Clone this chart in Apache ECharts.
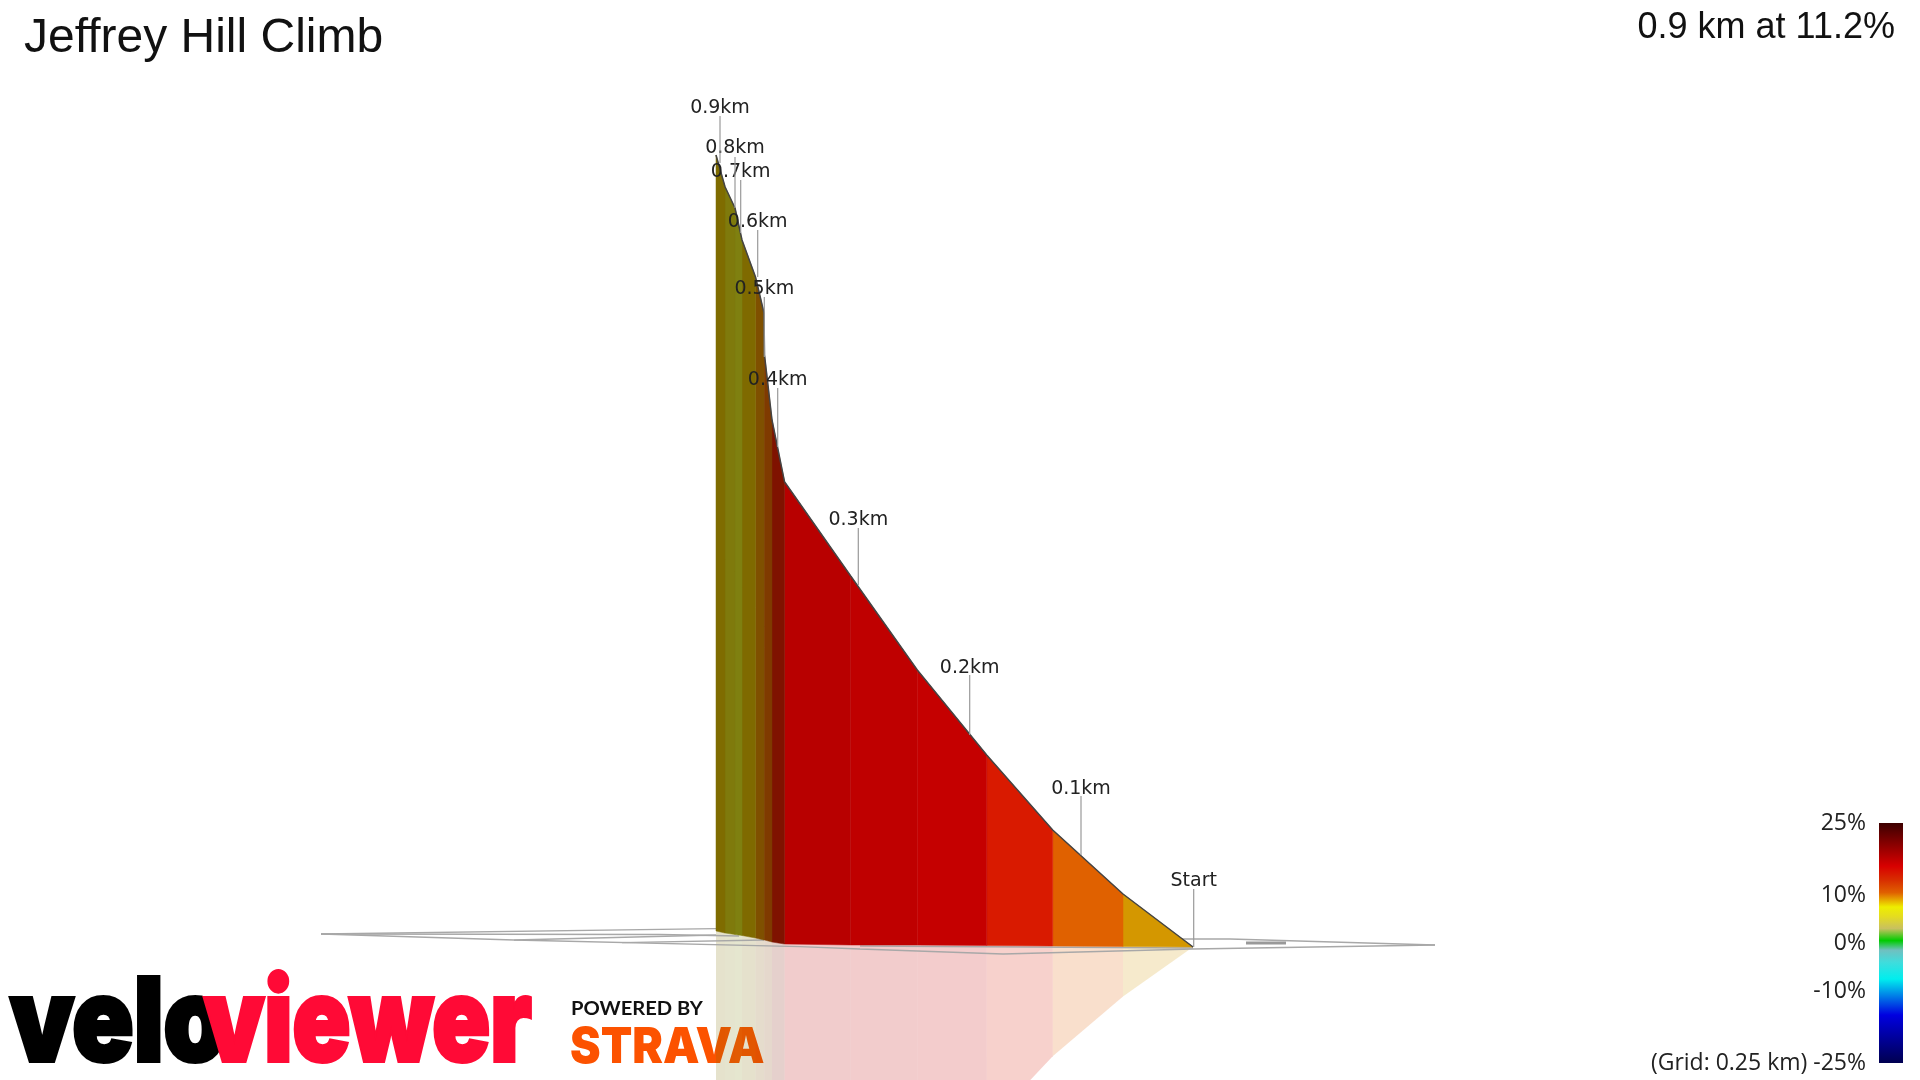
<!DOCTYPE html>
<html>
<head>
<meta charset="utf-8">
<style>html,body{margin:0;padding:0;background:#fff}#c{width:1920px;height:1080px}</style>
<script src="https://cdn.jsdelivr.net/npm/echarts@6/dist/echarts.min.js"></script>
</head>
<body>
<div id="c"></div>
<script>
// Projected profile, from the start (right) to the summit (left)
var stationX  = [1193,1123,1052.7,986.7,917.3,850.7,784.5,772,764.5,764,755.5,742,735,725,716];
var topY      = [947,894,830,755,670,576,481.7,420,355,313,277,240,208,186.7,155];
var baseY     = [947,946.5,946,945.5,945,945,944,942,940,940,938,935.5,934.5,933,931];
var segColors = ['#d49700','#e06100','#d91a00','#c50000','#bf0000','#b80000','#7f1200','#7f3a00','#7f3a00','#7f5000','#7f6a00','#7f8010','#7f7a0c','#7f6c00'];
var reflectionRatio = 0.95;

var markerNames = ['Start','0.1km','0.2km','0.3km','0.4km','0.5km','0.6km','0.7km','0.8km','0.9km'];
var markerX     = [1193.7,1081,969.7,858.3,777.7,764.3,757.7,740.7,735,720];
var markerFoot  = [947,855,735,585,447,357,277,233,208,163];
var markerHead  = [889,796,675,528,388,297,230,180,157,116];
var markerLabel = [881,789,668.5,520,380,289,222,172,148,108];

var groundLines = [
  [[321,934],[716,928.7]],
  [[321,934],[660,934.5],[739,936]],
  [[321,934],[514,940],[800,946.7],[860,949],[1003,954],[1193,949],[1435,945]],
  [[514,940],[716,935]],
  [[622,942.7],[764,940]],
  [[860,946],[1193,948]],
  [[1182,939],[1230,939],[1435,945]],
  [[1182,939],[1193,947]]
];
var groundMark = [[1246,943],[1286,943]];

var legendLabels = ['25%','10%','0%','-10%','(Grid: 0.25 km) -25%'];
var legendY      = [823,895,943,991,1063];
var legendStops  = [[0,'#3c0000'],[0.18,'#d80000'],[0.24,'#d83000'],[0.29,'#e06000'],[0.35,'#eeee00'],[0.39,'#e4dc20'],[0.44,'#c8c060'],[0.49,'#00cc00'],[0.53,'#70c0c0'],[0.58,'#40dcdc'],[0.65,'#00eeee'],[0.8,'#0000e0'],[1,'#000050']];

var titleText = 'Jeffrey Hill Climb';
var statText  = '0.9 km at 11.2%';

var segRows = segColors.map(function(col,i){
  return [stationX[i],topY[i],baseY[i],stationX[i+1],topY[i+1],baseY[i+1],i];
});
function polyRender(kind){
  return function(p,api){
    var x0=api.value(0),t0=api.value(1),b0=api.value(2),x1=api.value(3),t1=api.value(4),b1=api.value(5),i=api.value(6);
    var pts;
    if(kind==='wall'){
      pts=[api.coord([x0,t0]),api.coord([x1,t1]),api.coord([x1,b1]),api.coord([x0,b0])];
      return {type:'polygon',shape:{points:pts},style:{fill:segColors[i],stroke:segColors[i],lineWidth:0.5}};
    }
    pts=[api.coord([x0,b0]),api.coord([x1,b1]),
         api.coord([x1,b1+(b1-t1)*reflectionRatio]),api.coord([x0,b0+(b0-t0)*reflectionRatio])];
    return {type:'polygon',shape:{points:pts},style:{fill:segColors[i],opacity:0.2}};
  };
}
var hiddenAxis={show:false,type:'value',splitLine:{show:false}};
var groundSeries=groundLines.map(function(l){
  return {type:'line',data:l,showSymbol:false,symbol:'none',silent:true,z:3,
    lineStyle:{color:'#a8a8a8',width:1.3},animation:false};
});
groundSeries.push({type:'line',data:groundMark,symbol:'none',silent:true,z:3,lineStyle:{color:'#999',width:3},animation:false});

var option={
  animation:false,
  backgroundColor:'#fff',
  grid:{left:0,right:0,top:0,bottom:0,containLabel:false},
  xAxis:Object.assign({},hiddenAxis,{min:0,max:1920}),
  yAxis:Object.assign({},hiddenAxis,{min:0,max:1080,inverse:true}),
  title:[
    {text:titleText,left:19,top:10,textStyle:{fontFamily:'Liberation Sans',fontSize:48,fontWeight:'normal',color:'#111'}},
    {text:statText,right:20,top:5,textStyle:{fontFamily:'Liberation Sans',fontSize:36,fontWeight:'normal',color:'#111'}}
  ],
  series:[
    {type:'custom',z:1,silent:true,data:segRows,renderItem:polyRender('reflect'),clip:true,encode:{x:[0,3],y:[1,2]}}
  ].concat(groundSeries).concat([
    {type:'custom',z:4,silent:true,data:segRows,renderItem:polyRender('wall'),encode:{x:[0,3],y:[1,2]}},
    {type:'line',z:5,silent:true,symbol:'none',data:stationX.map(function(x,i){return [x,topY[i]];}),lineStyle:{color:'#444',width:1.5}},
    {type:'custom',z:6,silent:true,
     data:markerNames.map(function(n,i){return [markerX[i],markerFoot[i],markerHead[i],markerLabel[i],i];}),
     encode:{x:0,y:[1,2]},
     renderItem:function(p,api){
       var a=api.coord([api.value(0),api.value(1)]),b=api.coord([api.value(0),api.value(2)]),c=api.coord([api.value(0),api.value(3)]);
       return {type:'group',children:[
         {type:'line',shape:{x1:a[0],y1:a[1],x2:b[0],y2:b[1]},style:{stroke:'#999',lineWidth:1.2}},
         {type:'text',style:{x:c[0],y:c[1],text:markerNames[api.value(4)],textAlign:'center',textVerticalAlign:'middle',fontFamily:'DejaVu Sans',fontSize:19,fill:'#222'}}
       ]};
     }}
  ]),
  graphic:[
    {type:'rect',shape:{x:1879,y:823,width:24,height:240},silent:true,
     style:{fill:{type:'linear',x:0,y:0,x2:0,y2:1,colorStops:legendStops.map(function(s){return {offset:s[0],color:s[1]};})}}}
  ].concat(legendLabels.map(function(t,i){
    return {type:'text',silent:true,x:1866,y:legendY[i],style:{text:t,textAlign:'right',textVerticalAlign:'middle',fontFamily:'Open Sans',fontSize:23,fill:'#222'}};
  })).concat([
    {type:'text',silent:true,x:10,y:1084,scaleX:0.88,style:{text:'velo',textAlign:'left',textVerticalAlign:'bottom',fontFamily:'Inter',fontWeight:900,fontSize:115,fill:'#000',stroke:'#000',lineWidth:4}},
    {type:'text',silent:true,x:204,y:1084,scaleX:0.83,style:{text:'viewer',textAlign:'left',textVerticalAlign:'bottom',fontFamily:'Inter',fontWeight:900,fontSize:115,fill:'#ff0a36',stroke:'#ff0a36',lineWidth:4}},
    {type:'text',silent:true,x:571,y:1009,scaleX:1.12,style:{text:'POWERED BY',textAlign:'left',textVerticalAlign:'middle',fontFamily:'Lato',fontWeight:700,fontSize:18,fill:'#111'}},
    {type:'text',silent:true,x:570,y:1073,scaleX:0.92,style:{text:'STRAVA',textAlign:'left',textVerticalAlign:'bottom',fontFamily:'Inter',fontWeight:900,fontSize:50,fill:'#fc5200'}}
  ])
};
var chart=echarts.init(document.getElementById('c'),null,{renderer:'canvas'});
chart.setOption(option);
</script>
</body>
</html>
